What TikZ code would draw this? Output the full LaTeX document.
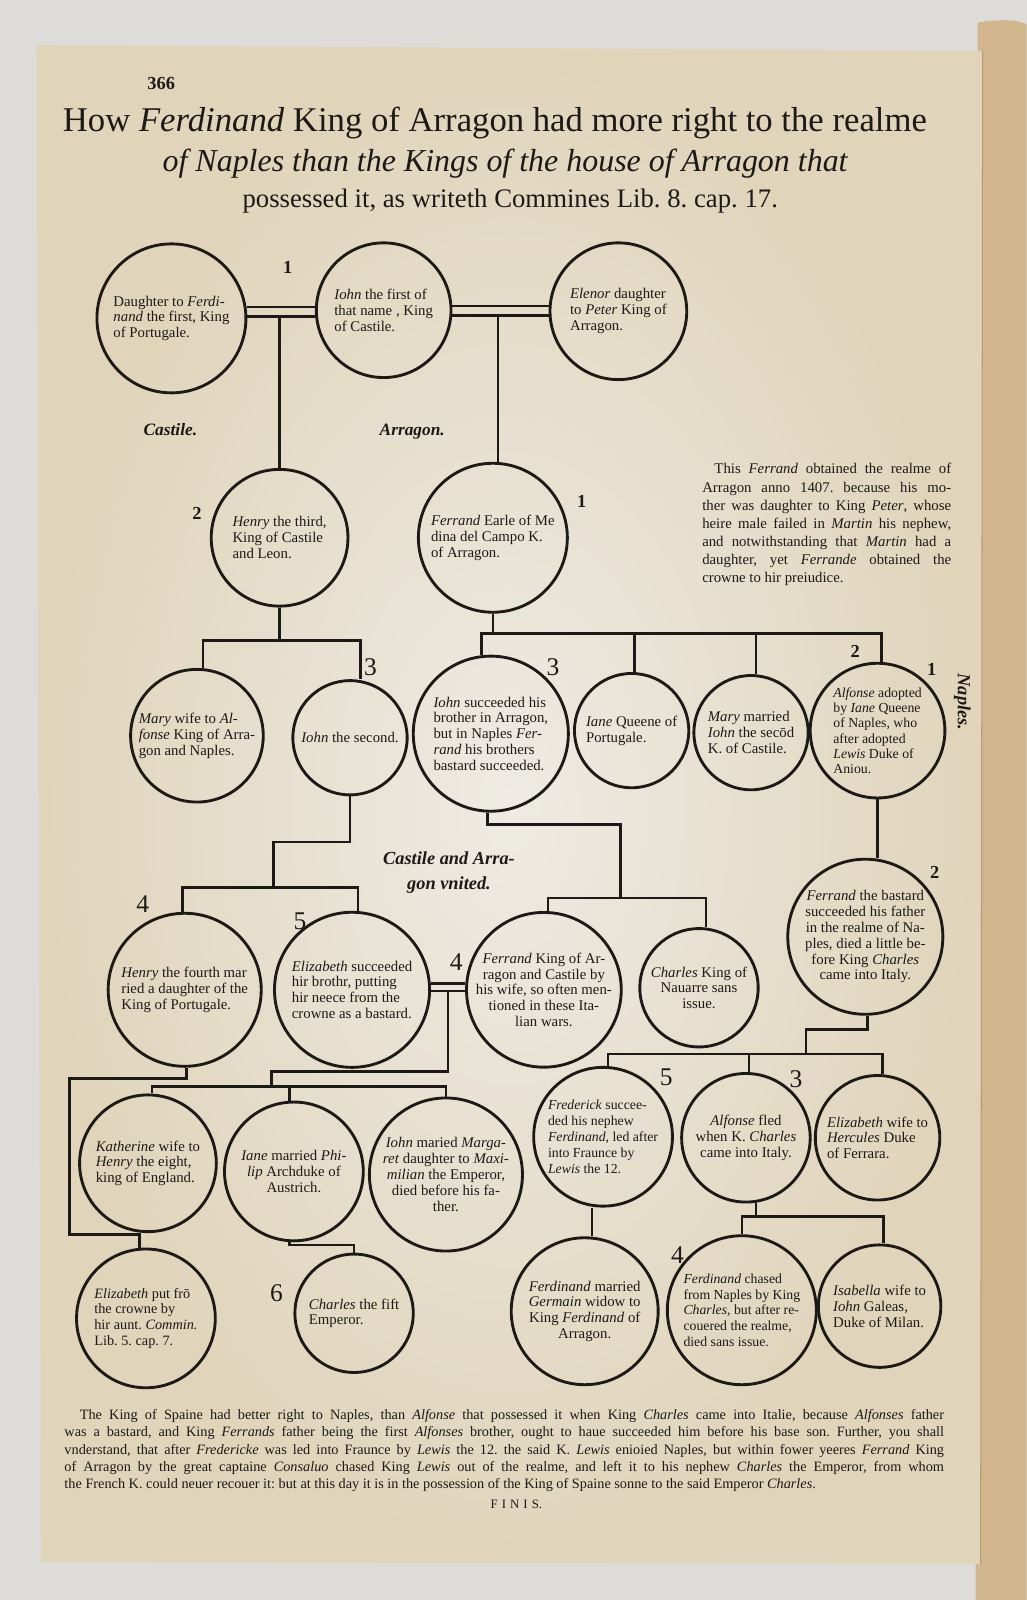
\documentclass[tikz,border=0pt]{standalone}
\usepackage{fontspec}
\setmainfont{Liberation Serif}
\definecolor{ink}{HTML}{1C1917}
\definecolor{paperC}{HTML}{EEEBE4}
\definecolor{paperE}{HTML}{E0D4BA}
\definecolor{bggrey}{HTML}{DEDCD8}
\definecolor{tanE}{HTML}{D2B68E}
\definecolor{tanD}{HTML}{B99B70}
\newcommand{\jline}[2]{\makebox[#1][s]{#2}}
\frenchspacing
\begin{document}
\begin{tikzpicture}[x=1pt,y=-1pt,
  circ/.style={circle, draw=ink, line width=2.8pt, inner sep=0pt, align=left, text=ink, font=\fontsize{14.5}{15.5}\selectfont},
  ln/.style={draw=ink, line width=2.6pt},
  onum/.style={text=ink, font=\fontsize{25}{25}\selectfont},
  bnum/.style={text=ink, font=\bfseries\fontsize{18}{18}\selectfont},
  lbl/.style={text=ink, font=\bfseries\itshape\fontsize{17}{17}\selectfont},
  ttl/.style={text=ink, inner sep=0pt},
]
\useasboundingbox (0,0) rectangle (1006,1568);
% page and surroundings
\fill[bggrey] (0,0) rectangle (1006,1568);
\fill[tanE] (958,22) .. controls (985,18) and (1000,20) .. (1006,24) -- (1006,1568) -- (956,1568) -- cycle;
\shade[inner color=paperC, outer color=paperE] (36,44) -- (963,50) -- (961,1533) -- (40,1531) -- cycle;
\draw[tanD, line width=1pt] (963,50) -- (961,1533);

% title
\node[ttl, font=\bfseries\fontsize{18}{18}\selectfont] (pg) at (158,82) {366};
\node[ttl, font=\fontsize{34}{34}\selectfont] (t1) at (485,121) {How \textit{Ferdinand} King of Arragon had more right to the realme};
\node[ttl, font=\itshape\fontsize{31.3}{31}\selectfont] (t2) at (495,160) {of Naples than the Kings of the house of Arragon that};
\node[ttl, font=\fontsize{26.2}{26}\selectfont] (t3) at (500,197) {possessed it, as writeth Commines Lib. 8. cap. 17.};

% circles
\node[circ, minimum size=146] (A) at (168,312) {Daughter to \textit{Ferdi-}\\\textit{nand} the first, King\\of Portugale.};
\node[circ, minimum size=132] (B) at (376,304) {\textit{Iohn} the first of\\that name , King\\of Castile.};
\node[circ, minimum size=134] (C) at (606,305) {\textit{Elenor} daughter\\to \textit{Peter} King of\\Arragon.};
\node[circ, minimum size=134] (D) at (274,527) {\textit{Henry} the third,\\King of Castile\\and Leon.};
\node[circ, minimum size=146] (E) at (483,527) {\textit{Ferrand} Earle of Me\\dina del Campo K.\\of Arragon.};
\node[circ, minimum size=130] (F) at (193,721) {\textit{Mary} wife to \textit{Al-}\\\textit{fonse} King of Arra-\\gon and Naples.};
\node[circ, minimum size=112] (G) at (343,723) {\textit{Iohn} the second.};
\node[circ, minimum size=152] (H) at (481,719) {\textit{Iohn} succeeded his\\brother in Arragon,\\but in Naples \textit{Fer-}\\\textit{rand} his brothers\\bastard succeeded.};
\node[circ, minimum size=112] (I) at (619,716) {\textit{Iane} Queene of\\Portugale.};
\node[circ, minimum size=112] (J) at (736,718) {\textit{Mary} married\\\textit{Iohn} the secōd\\K. of Castile.};
\node[circ, minimum size=132, font=\fontsize{13.5}{15}\selectfont] (K) at (860,716) {\textit{Alfonse} adopted\\by \textit{Iane} Queene\\of Naples, who\\after adopted\\\textit{Lewis} Duke of\\Aniou.};
\node[circ, minimum size=152, align=center] (P) at (848,918) {\textit{Ferrand} the bastard\\succeeded his father\\in the realme of Na-\\ples, died a little be-\\fore King \textit{Charles}\\came into Italy.};
\node[circ, minimum size=150] (L) at (181,970) {\textit{Henry} the fourth mar\\ried a daughter of the\\King of Portugale.};
\node[circ, minimum size=152] (M) at (345,970) {\textit{Elizabeth} succeeded\\hir brothr, putting\\hir neece from the\\crowne as a bastard.};
\node[circ, minimum size=150, align=center] (N) at (533,970) {\textit{Ferrand} King of Ar-\\ragon and Castile by\\his wife, so often men-\\tioned in these Ita-\\lian wars.};
\node[circ, minimum size=116, align=center] (O) at (685,968) {\textit{Charles} King of\\Nauarre sans\\issue.};
\node[circ, minimum size=134] (R) at (145,1140) {\textit{Katherine} wife to\\\textit{Henry} the eight,\\king of England.};
\node[circ, minimum size=136, align=center] (S) at (288,1148) {\textit{Iane} married \textit{Phi-}\\\textit{lip} Archduke of\\Austrich.};
\node[circ, minimum size=150, align=center] (T) at (437,1151) {\textit{Iohn} maried \textit{Marga-}\\\textit{ret} daughter to \textit{Maxi-}\\\textit{milian} the Emperor,\\died before his fa-\\ther.};
\node[circ, minimum size=136, font=\fontsize{13.5}{15.5}\selectfont] (U) at (591,1114) {\textit{Frederick} succee-\\ded his nephew\\\textit{Ferdinand}, led after\\into Fraunce by\\\textit{Lewis} the 12.};
\node[circ, minimum size=126, align=center] (V) at (731,1115) {\textit{Alfonse} fled\\when K. \textit{Charles}\\came into Italy.};
\node[circ, minimum size=122] (W) at (860,1115) {\textit{Elizabeth} wife to\\\textit{Hercules} Duke\\of Ferrara.};
\node[circ, minimum size=136, font=\fontsize{14}{15.5}\selectfont] (Q) at (143,1292) {\textit{Elizabeth} put frō\\the crowne by\\hir aunt. \textit{Commin.}\\Lib. 5. cap. 7.};
\node[circ, minimum size=116] (Y) at (347,1287) {\textit{Charles} the fift\\Emperor.};
\node[circ, minimum size=144, align=center] (X) at (573,1285) {\textit{Ferdinand} married\\\textit{Germain} widow to\\King \textit{Ferdinand} of\\Arragon.};
\node[circ, minimum size=146, font=\fontsize{13.5}{15.5}\selectfont] (Z) at (727,1284) {\textit{Ferdinand} chased\\from Naples by King\\\textit{Charles}, but after re-\\couered the realme,\\died sans issue.};
\node[circ, minimum size=120] (AA) at (862,1280) {\textit{Isabella} wife to\\\textit{Iohn} Galeas,\\Duke of Milan.};

% bar levels and junctions
\coordinate (b310) at (0,310);
\coordinate (b309) at (0,309);
\coordinate (b628) at (0,628);
\coordinate (b621) at (0,621);
\coordinate (b870) at (0,870);
\coordinate (b880) at (0,880);
\coordinate (b1065) at (0,1065);
\coordinate (b1210) at (0,1210);
\coordinate (b1220) at (0,1220);
\coordinate (b1033) at (0,1033);
\coordinate (b1192) at (0,1192);
\coordinate (gl) at (268,825);
\coordinate (hr) at (608,808);
\coordinate (mn) at (439,971);
\coordinate (mnl) at (266,1050);
\coordinate (lq) at (68,1057);
\coordinate (pl) at (790,1009);

% row 1 marriages
\draw[ln] ([yshift=11]A.east) -- ([yshift=3]B.west);
\draw[ln] ([yshift=2]A.east) -- ([yshift=-6]B.west);
\draw[ln] ([yshift=4]B.east) -- ([yshift=5]C.west);
\draw[ln] ([yshift=-5]B.east) -- ([yshift=-4]C.west);
\draw[ln] (D.north |- b310) -- (D.north);
\coordinate (eT) at ([xshift=5]E.north);
\draw[ln] (eT |- b309) -- (eT);

% row 2 to row 3
\coordinate (fT) at ([xshift=6]F.north);
\coordinate (gT) at ([xshift=10]G.north);
\draw[ln] (D.south) -- (D.south |- b628);
\draw[ln] (fT) |- (gT |- b628) -- (gT);
\coordinate (hT) at ([xshift=-9]H.north);
\coordinate (kT) at ([xshift=4]K.north);
\coordinate (iT) at ([xshift=3]I.north);
\coordinate (jT) at ([xshift=5]J.north);
\draw[ln] (E.south) -- (E.south |- b621);
\draw[ln] (hT) |- (kT |- b621) -- (kT);
\draw[ln] (iT) -- (iT |- b621);
\draw[ln] (jT) -- (jT |- b621);

% row 3 to row 4
\coordinate (lT) at ([xshift=-2]L.north);
\coordinate (mT) at ([xshift=6]M.north);
\draw[ln] (G.south) |- (gl) -- (gl |- b870);
\draw[ln] (lT) |- (mT |- b870) -- (mT);
\coordinate (hB) at ([xshift=-3]H.south);
\draw[ln] (hB) |- (hr) -- (hr |- b880);
\coordinate (nT) at ([xshift=4]N.north);
\coordinate (oT) at ([xshift=7]O.north);
\draw[ln] (nT) |- (oT |- b880) -- (oT);
\draw[ln] (K.south) -- (K.south |- P.north);

% Ferrand and Elizabeth
\draw[ln] ([yshift=6]M.east) -- ([yshift=6]N.west);
\draw[ln] ([yshift=-1]M.east) -- ([yshift=-1]N.west);
\draw[ln] (mn) |- (mnl) -- (mnl |- b1065);
\coordinate (rT) at ([xshift=4]R.north);
\coordinate (sT) at ([xshift=-4]S.north);
\draw[ln] (rT) |- (T.north |- b1065) -- (T.north);
\draw[ln] (sT) -- (sT |- b1065);

% Henry IV to Elizabeth
\coordinate (qT) at ([xshift=-6]Q.north);
\draw[ln] ([xshift=2]L.south) |- (lq) |- (qT |- b1210) -- (qT);

% Jane to Charles V
\coordinate (sB) at ([xshift=-4]S.south);
\draw[ln] (sB) |- (Y.north |- b1220) -- (Y.north);

% Ferrand the bastard to children
\coordinate (pB) at ([xshift=2]P.south);
\draw[ln] (pB) |- (pl) -- (pl |- b1033);
\coordinate (uT) at ([xshift=5]U.north);
\coordinate (vT) at ([xshift=3]V.north);
\coordinate (wT) at ([xshift=5]W.north);
\draw[ln] (uT) |- (wT |- b1033) -- (wT);
\draw[ln] (vT) -- (vT |- b1033);

% grandchildren
\coordinate (xT) at ([xshift=7]X.north);
\draw[ln] (xT) -- (xT |- U.south);
\coordinate (vB) at ([xshift=10]V.south);
\draw[ln] (vB) -- (vB |- b1192);
\coordinate (aT) at ([xshift=4]AA.north);
\draw[ln] (Z.north) |- (aT |- b1192) -- (aT);

% generation numbers
\node[bnum] (n1) at (282,262) {1};
\node[bnum] (n2) at (193,503) {2};
\node[bnum] (n3) at (570,491) {1};
\node[onum] (n4) at (363,654) {3};
\node[onum] (n5) at (542,654) {3};
\node[bnum] (n6) at (838,638) {2};
\node[bnum] (n7) at (913,656) {1};
\node[bnum] (n8) at (916,855) {2};
\node[onum] (n9) at (140,886) {4};
\node[onum] (n10) at (294,903) {5};
\node[onum] (n11) at (447,943) {4};
\node[onum] (n12) at (653,1056) {5};
\node[onum] (n13) at (780,1058) {3};
\node[onum] (n14) at (271,1267) {6};
\node[onum] (n15) at (664,1230) {4};

% labels
\node[lbl] (cast) at (167,421) {Castile.};
\node[lbl] (arr) at (404,423) {Arragon.};
\node[text=ink, font=\bfseries\itshape\fontsize{18}{25}\selectfont, align=center] (unit) at (440,855) {Castile and Arra-\\gon vnited.};
\node[rotate=-90, text=ink, font=\bfseries\itshape\fontsize{18}{18}\selectfont] (napl) at (943,688) {Naples.};

% side note
\node[anchor=north west, inner sep=0pt, align=left, text=ink, font=\fontsize{14.5}{17.8}\selectfont] (note) at (688,454) {%
\hspace*{12pt}\jline{232pt}{This \textit{Ferrand} obtained the realme of}\\
\jline{244pt}{Arragon anno 1407. because his mo-}\\
\jline{244pt}{ther was daughter to King \textit{Peter}, whose}\\
\jline{244pt}{heire male failed in \textit{Martin} his nephew,}\\
\jline{244pt}{and notwithstanding that \textit{Martin} had a}\\
\jline{244pt}{daughter, yet \textit{Ferrande} obtained the}\\
crowne to hir preiudice.};

% foot note
\node[anchor=north west, inner sep=0pt, align=left, text=ink, font=\fontsize{14}{17}\selectfont] (foot) at (63,1381) {%
\hspace*{15pt}\jline{847pt}{The King of Spaine had better right to Naples, than \textit{Alfonse} that possessed it when King \textit{Charles} came into Italie, because \textit{Alfonses} father}\\
\jline{862pt}{was a bastard, and King \textit{Ferrands} father being the first \textit{Alfonses} brother, ought to haue succeeded him before his base son. Further, you shall}\\
\jline{862pt}{vnderstand, that after \textit{Fredericke} was led into Fraunce by \textit{Lewis} the 12. the said K. \textit{Lewis} enioied Naples, but within fower yeeres \textit{Ferrand} King}\\
\jline{862pt}{of Arragon by the great captaine \textit{Consaluo} chased King \textit{Lewis} out of the realme, and left it to his nephew \textit{Charles} the Emperor, from whom}\\
the French K. could neuer recouer it: but at this day it is in the possession of the King of Spaine sonne to the said Emperor \textit{Charles}.};
\node[text=ink, font=\fontsize{12.5}{12}\selectfont] (finis) at (506,1474) {F\kern4pt I\kern4pt N\kern4pt I\kern4pt S.};
\end{tikzpicture}
\end{document}
